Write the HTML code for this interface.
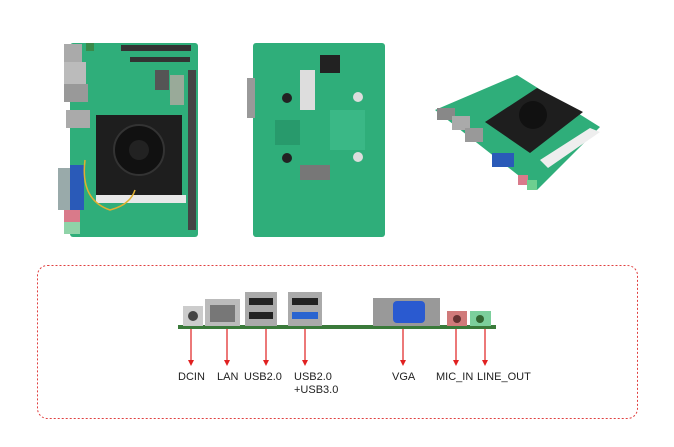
<!DOCTYPE html>
<html><head><style>
body{margin:0;width:674px;height:447px;background:#fff;position:relative;overflow:hidden;font-family:"Liberation Sans",sans-serif}
.a{position:absolute}
.lbl{position:absolute;font-size:11px;color:#222;line-height:13px}
</style></head><body>
<svg class="a" style="left:0;top:0" width="674" height="447">
<!-- board 1 -->
<rect x="70" y="43" width="128" height="194" fill="#2fae7a" rx="3"/>
<rect x="64" y="44" width="18" height="18" fill="#aaa"/>
<rect x="64" y="62" width="22" height="22" fill="#bbb"/>
<rect x="64" y="84" width="24" height="18" fill="#999"/>
<rect x="66" y="110" width="24" height="18" fill="#aaa"/>
<rect x="86" y="43" width="8" height="8" fill="#3a8a4a"/>
<rect x="121" y="45" width="70" height="6" fill="#333"/>
<rect x="130" y="57" width="60" height="5" fill="#333"/>
<rect x="188" y="70" width="8" height="160" fill="#444"/>
<rect x="155" y="70" width="14" height="20" fill="#555"/>
<rect x="170" y="75" width="14" height="30" fill="#9a9"/>
<rect x="96" y="115" width="86" height="80" fill="#1e1e1e"/>
<circle cx="139" cy="150" r="25" fill="#111" stroke="#333" stroke-width="2"/>
<circle cx="139" cy="150" r="10" fill="#222"/>
<rect x="96" y="195" width="90" height="8" fill="#e8e8e8"/>
<rect x="58" y="168" width="14" height="42" fill="#9aa"/>
<rect x="70" y="165" width="14" height="45" fill="#2a5ab8"/>
<rect x="64" y="210" width="16" height="12" fill="#d97a8a"/>
<rect x="64" y="222" width="16" height="12" fill="#8fd3a8"/>
<path d="M85 160 Q80 200 110 210 Q130 205 135 190" fill="none" stroke="#e0b030" stroke-width="1.5"/>
<!-- board 2 -->
<rect x="253" y="43" width="132" height="194" fill="#2fae7a" rx="3"/>
<rect x="247" y="78" width="8" height="40" fill="#999"/>
<rect x="320" y="55" width="20" height="18" fill="#222"/>
<rect x="300" y="70" width="15" height="40" fill="#ddd"/>
<circle cx="287" cy="98" r="5" fill="#222"/>
<circle cx="287" cy="158" r="5" fill="#222"/>
<circle cx="358" cy="97" r="5" fill="#ddd"/>
<circle cx="358" cy="157" r="5" fill="#ddd"/>
<rect x="300" y="165" width="30" height="15" fill="#777"/>
<rect x="275" y="120" width="25" height="25" fill="#289a6c"/>
<rect x="330" y="110" width="35" height="40" fill="#3ab886"/>
<!-- board 3 -->
<polygon points="435,110 517,75 600,127 537,190" fill="#2fae7a"/>
<polygon points="485,122 537,88 583,112 530,153" fill="#1e1e1e"/>
<circle cx="533" cy="115" r="14" fill="#111"/>
<polygon points="540,160 590,128 600,132 548,168" fill="#eee"/>
<rect x="437" y="108" width="18" height="12" fill="#888"/>
<rect x="452" y="116" width="18" height="14" fill="#aaa"/>
<rect x="465" y="128" width="18" height="14" fill="#999"/>
<rect x="492" y="153" width="22" height="14" fill="#2a5ab8"/>
<rect x="518" y="175" width="10" height="10" fill="#d97a8a"/>
<rect x="527" y="180" width="10" height="10" fill="#6ecf90"/>
<!-- dashed frame -->
<rect x="37.5" y="265.5" width="600" height="153" rx="10" fill="none" stroke="#e04040" stroke-width="1" stroke-dasharray="2,2"/>
<!-- strip board -->
<rect x="178" y="325" width="318" height="4" fill="#3a7a3a"/>
<rect x="183" y="306" width="20" height="20" fill="#ccc"/><circle cx="193" cy="316" r="5" fill="#444"/>
<rect x="205" y="299" width="35" height="27" fill="#bbb"/><rect x="210" y="305" width="25" height="17" fill="#777"/>
<rect x="245" y="292" width="32" height="34" fill="#aaa"/><rect x="249" y="298" width="24" height="7" fill="#222"/><rect x="249" y="312" width="24" height="7" fill="#222"/>
<rect x="288" y="292" width="34" height="34" fill="#aaa"/><rect x="292" y="298" width="26" height="7" fill="#222"/><rect x="292" y="312" width="26" height="7" fill="#2a64d0"/>
<rect x="373" y="298" width="67" height="28" fill="#999"/><rect x="393" y="301" width="32" height="22" rx="4" fill="#2a5ad0"/>
<rect x="447" y="311" width="20" height="15" fill="#d07a7a"/><circle cx="457" cy="319" r="4" fill="#633"/>
<rect x="470" y="311" width="21" height="15" fill="#7ccf9c"/><circle cx="480" cy="319" r="4" fill="#363"/>
<g stroke="#e02020" stroke-width="1.2" fill="#e02020">
<line x1="191" y1="329" x2="191" y2="362"/><polygon points="188,360 194,360 191,366" stroke="none"/>
<line x1="227" y1="329" x2="227" y2="362"/><polygon points="224,360 230,360 227,366" stroke="none"/>
<line x1="266" y1="329" x2="266" y2="362"/><polygon points="263,360 269,360 266,366" stroke="none"/>
<line x1="305" y1="329" x2="305" y2="362"/><polygon points="302,360 308,360 305,366" stroke="none"/>
<line x1="403" y1="329" x2="403" y2="362"/><polygon points="400,360 406,360 403,366" stroke="none"/>
<line x1="456" y1="329" x2="456" y2="362"/><polygon points="453,360 459,360 456,366" stroke="none"/>
<line x1="485" y1="329" x2="485" y2="362"/><polygon points="482,360 488,360 485,366" stroke="none"/>
</g>
</svg>
<div class="lbl" style="left:178px;top:371px">DCIN</div>
<div class="lbl" style="left:217px;top:371px">LAN</div>
<div class="lbl" style="left:244px;top:371px">USB2.0</div>
<div class="lbl" style="left:294px;top:371px">USB2.0<br>+USB3.0</div>
<div class="lbl" style="left:392px;top:371px">VGA</div>
<div class="lbl" style="left:436px;top:371px">MIC_IN</div>
<div class="lbl" style="left:477px;top:371px">LINE_OUT</div>
</body></html>
